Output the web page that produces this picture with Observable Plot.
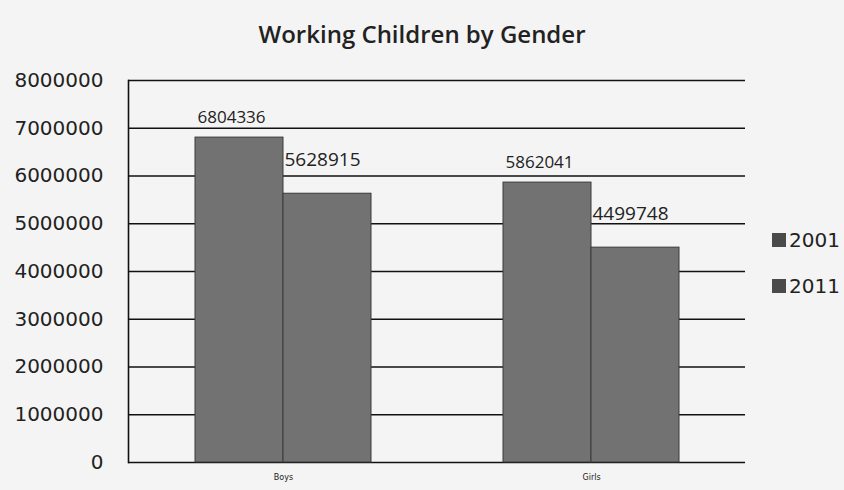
<!DOCTYPE html>
<html>
<head>
<meta charset="utf-8">
<script src="https://cdn.jsdelivr.net/npm/d3@7"></script>
<script src="https://cdn.jsdelivr.net/npm/@observablehq/plot@0.6"></script>
<style>
  html, body { margin: 0; padding: 0; background: #f4f4f4; }
  #wrap { position: relative; width: 844px; height: 490px; overflow: hidden; background: #f4f4f4; }
  #title { position: absolute; left: 0; top: 17px; width: 844px; text-align: center;
           font-family: "Open Sans", sans-serif; font-size: 24px; font-weight: 600; color: #222; }
  .leg { position: absolute; left: 772px; font-family: "DejaVu Sans", sans-serif; font-size: 20px; color: #222;
         display: flex; align-items: center; }
  .leg span.sw { display: inline-block; width: 14px; height: 14px; background: #4a4a4a; margin-right: 3px; }
  #plot { position: absolute; left: 0; top: 0; }
</style>
</head>
<body>
<div id="wrap">
  <div id="plot"></div>
  <div id="title">Working Children by Gender</div>
  <div id="legend"></div>
</div>
<script>
const genders = ["Boys", "Girls"];
const years = ["2001", "2011"];
const values2001 = [6804336, 5862041];
const values2011 = [5628915, 4499748];
const yTicks = [0, 1000000, 2000000, 3000000, 4000000, 5000000, 6000000, 7000000, 8000000];

const data2001 = genders.map((g, i) => ({gender: g, year: years[0], value: values2001[i]}));
const data2011 = genders.map((g, i) => ({gender: g, year: years[1], value: values2011[i]}));
const barColor = "#727272";

const chart = Plot.plot({
  width: 844,
  height: 490,
  marginLeft: 128,
  marginRight: 99,
  marginTop: 80,
  marginBottom: 28,
  style: {background: "transparent", fontFamily: "DejaVu Sans, sans-serif", color: "#222"},
  x: {domain: genders, padding: 0, label: null},
  y: {domain: [0, 8000000], label: null},
  marks: [
    Plot.gridY(yTicks, {stroke: "#111", strokeOpacity: 1, strokeWidth: 1.4}),
    Plot.barY(data2001, {x: "gender", y: "value", fill: barColor, stroke: "#3a3a3a", strokeWidth: 1,
      insetLeft: 66, insetRight: 154}),
    Plot.barY(data2011, {x: "gender", y: "value", fill: barColor, stroke: "#3a3a3a", strokeWidth: 1,
      insetLeft: 154, insetRight: 66}),
    Plot.text(data2001, {x: "gender", y: "value", text: d => String(d.value),
      textAnchor: "start", dx: -86, dy: -20, fontSize: 17, fontFamily: "Open Sans, sans-serif", fill: "#222"}),
    Plot.text(data2011, {x: "gender", y: "value", text: d => String(d.value),
      textAnchor: "start", dx: 1, dy: -34, fontSize: 19, fontFamily: "Open Sans, sans-serif", fill: "#222"}),
    Plot.frame({anchor: "left", stroke: "#111", strokeWidth: 1.6}),
    Plot.axisY(yTicks, {tickSize: 0, tickPadding: 25, fontSize: 20, tickFormat: d => String(d), label: null}),
    Plot.axisX({anchor: "bottom", tickSize: 0, tickPadding: 12, fontSize: 8, label: null})
  ]
});
document.getElementById("plot").appendChild(chart);

const legend = document.getElementById("legend");
years.forEach((y, i) => {
  const d = document.createElement("div");
  d.className = "leg";
  d.style.top = (228 + i * 46) + "px";
  d.innerHTML = `<span class="sw"></span>${y}`;
  legend.appendChild(d);
});
</script>
</body>
</html>
